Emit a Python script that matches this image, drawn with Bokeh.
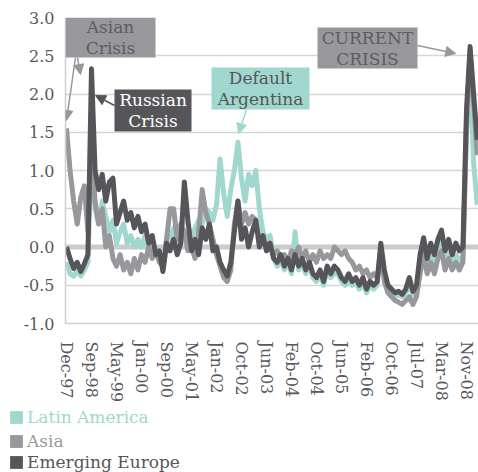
from bokeh.plotting import figure
from bokeh.models import (Range1d, FixedTicker, Span, BoxAnnotation, Label, Arrow,
                          NormalHead, Legend, LegendItem, PrintfTickFormatter)
from bokeh.embed import file_html
from bokeh.resources import INLINE

# ---------------- data (weekly index, one value every 5 weeks) ----------------
tick_labels = ["Dec-97", "Sep-98", "May-99", "Jan-00", "Sep-00", "May-01", "Jan-02",
               "Oct-02", "Jun-03", "Feb-04", "Oct-04", "Jun-05", "Feb-06", "Oct-06",
               "Jul-07", "Mar-08", "Nov-08"]
tick_weeks = [0, 35, 70, 105, 140, 175, 210, 245, 280, 315, 350, 385, 420, 455, 490, 525, 560]

latin_america = [
    -0.20, -0.35, -0.38, -0.30, -0.38, -0.30, -0.20, 1.30, 0.50, 0.30,
    0.60, 0.40, 0.20, 0.35, 0.05, 0.20, 0.30, 0.05, 0.15, 0.00,
    0.10, 0.00, 0.15, -0.05, 0.05, -0.10, -0.05, -0.30, 0.00, 0.10,
    0.25, -0.05, 0.05, 0.60, 0.30, 0.10, 0.25, 0.35, 0.30, 0.50,
    0.45, 0.35, 0.55, 1.15, 0.70, 0.40, 0.75, 1.00, 1.37, 0.90,
    0.60, 0.95, 0.80, 1.00, 0.50, 0.20, 0.10, 0.15, -0.15, -0.25,
    -0.15, -0.30, -0.20, -0.35, 0.20, -0.30, -0.20, -0.35, -0.25, -0.40,
    -0.45, -0.35, -0.50, -0.30, -0.40, -0.35, -0.35, -0.45, -0.50, -0.45,
    -0.50, -0.45, -0.55, -0.45, -0.60, -0.50, -0.55, -0.50, -0.05, -0.40,
    -0.55, -0.60, -0.65, -0.62, -0.65, -0.60, -0.50, -0.62, -0.55, -0.20,
    0.00, -0.25, -0.10, -0.25, -0.05, 0.10, -0.15, 0.00, -0.20, -0.10,
    -0.20, -0.10, 1.50, 2.30, 1.10, 0.55]

asia = [
    1.55, 1.00, 0.60, 0.30, 0.65, 0.80, 0.20, 1.20, 0.60, 0.30,
    0.50, 0.00, 0.15, -0.15, -0.25, -0.10, -0.30, -0.20, -0.35, -0.15,
    -0.30, -0.10, -0.20, 0.00, -0.15, -0.05, -0.20, -0.25, 0.10, 0.50,
    0.50, 0.10, 0.30, 0.20, -0.05, 0.00, -0.15, 0.20, 0.75, 0.45,
    0.30, 0.10, -0.10, -0.25, -0.40, -0.45, -0.30, 0.30, 0.60, 0.30,
    0.45, 0.30, 0.40, 0.35, 0.10, 0.05, 0.05, 0.00, -0.10, -0.05,
    -0.15, -0.10, -0.20, -0.05, -0.10, 0.00, -0.15, -0.05, -0.20, -0.10,
    -0.20, -0.05, -0.15, -0.10, -0.15, 0.00, -0.05, -0.10, -0.05, -0.15,
    -0.20, -0.30, -0.25, -0.35, -0.30, -0.40, -0.35, -0.40, -0.05, -0.45,
    -0.60, -0.65, -0.70, -0.72, -0.75, -0.70, -0.65, -0.75, -0.65, -0.35,
    -0.10, -0.35, -0.20, -0.35, -0.15, -0.05, -0.30, -0.15, -0.30, -0.20,
    -0.30, -0.20, 1.60, 2.55, 1.90, 1.20]

emerging_europe = [
    0.00, -0.15, -0.28, -0.20, -0.32, -0.22, -0.10, 2.33, 1.00, 0.75,
    0.95, 0.60, 0.85, 0.90, 0.30, 0.45, 0.60, 0.35, 0.45, 0.25,
    0.40, 0.20, 0.30, 0.05, 0.15, -0.10, -0.05, -0.32, 0.05, -0.05,
    0.10, -0.10, 0.05, 0.85, 0.35, -0.05, 0.10, -0.10, 0.25, 0.10,
    0.30, -0.05, 0.00, -0.20, -0.30, -0.38, -0.20, 0.20, 0.60, 0.10,
    0.25, 0.00, 0.20, 0.35, 0.00, 0.15, -0.05, 0.05, -0.15, -0.20,
    -0.10, -0.25, -0.15, -0.30, -0.10, -0.25, -0.15, -0.30, -0.20, -0.35,
    -0.40, -0.30, -0.45, -0.25, -0.35, -0.25, -0.30, -0.40, -0.45, -0.35,
    -0.45, -0.40, -0.50, -0.40, -0.55, -0.45, -0.50, -0.45, 0.05, -0.30,
    -0.50, -0.55, -0.60, -0.58, -0.62, -0.55, -0.40, -0.58, -0.50, -0.10,
    0.12, -0.15, 0.05, -0.10, 0.10, 0.22, -0.05, 0.10, -0.10, 0.05,
    -0.05, 0.00, 1.80, 2.62, 2.00, 1.40]

weeks = list(range(0, 5 * len(emerging_europe), 5))

series_names = ["Latin America", "Asia", "Emerging Europe"]

# ---------------- style ----------------
TEAL = "#a0d8cf"
GRAY = "#98989c"
DARK = "#56565a"
TXT = "#58585c"
FONT = "DejaVu Serif"

p = figure(width=478, height=405,
           x_range=Range1d(-1.4, 576.8), y_range=Range1d(-1.0, 3.0),
           output_backend="svg", toolbar_location=None,
           min_border_left=65, min_border_right=0, min_border_top=17, min_border_bottom=82)
p.outline_line_color = None
p.background_fill_color = "white"
p.border_fill_color = "white"

# axes
p.yaxis.ticker = FixedTicker(ticks=[-1.0, -0.5, 0.0, 0.5, 1.0, 1.5, 2.0, 2.5, 3.0])
p.yaxis.formatter = PrintfTickFormatter(format="%.1f")
p.yaxis.axis_line_color = "#cfcfcf"
p.yaxis.axis_line_width = 1.5
p.yaxis.major_tick_line_color = None
p.yaxis.minor_tick_line_color = None
p.yaxis.major_label_text_font = FONT
p.yaxis.major_label_text_font_size = "16px"
p.yaxis.major_label_text_color = TXT
p.yaxis.major_label_standoff = 5

p.xaxis.ticker = FixedTicker(ticks=tick_weeks)
p.xaxis.major_label_overrides = {w: lab for w, lab in zip(tick_weeks, tick_labels)}
p.xaxis.major_label_orientation = "vertical"
p.xaxis.axis_line_color = "#cfcfcf"
p.xaxis.axis_line_width = 1.5
p.xaxis.major_tick_line_color = None
p.xaxis.minor_tick_line_color = None
p.xaxis.major_label_text_font = FONT
p.xaxis.major_label_text_font_size = "16px"
p.xaxis.major_label_text_color = TXT
p.xaxis.major_label_standoff = 12

p.xgrid.visible = False
p.ygrid.grid_line_color = "#d6d6d6"
p.ygrid.grid_line_width = 1.5

p.add_layout(Span(location=0, dimension="width", line_color="#cbcbcb",
                  line_width=5, level="underlay"))

# lines
colors = [TEAL, GRAY, DARK]
for vals, col in zip([latin_america, asia, emerging_europe], colors):
    p.line(weeks, vals, line_color=col, line_width=5, line_join="round")

# annotations
def box(l, r, t, b, col):
    p.add_layout(BoxAnnotation(left=l, right=r, top=t, bottom=b, fill_color=col,
                               fill_alpha=1.0, line_color=None, level="overlay"))

def lab(x, y, text, col):
    p.add_layout(Label(x=x, y=y, text=text, text_align="center", text_baseline="middle",
                       text_font=FONT, text_font_size="17px", text_color=col,
                       text_line_height=1.05, level="overlay"))

def arrow(x0, y0, x1, y1, col):
    p.add_layout(Arrow(end=NormalHead(size=10, fill_color=col, line_color=col),
                       x_start=x0, y_start=y0, x_end=x1, y_end=y1,
                       line_color=col, line_width=1.5, level="overlay"))

box(-1.4, 124.6, 3.0, 2.477, GRAY)
lab(61.6, 2.739, "Asian\nCrisis", "#5d5d61")
arrow(12.6, 2.477, 0.0, 1.654, GRAY)
arrow(15.4, 2.477, 19.6, 2.255, GRAY)

box(67.2, 175.0, 2.059, 1.510, DARK)
lab(121.1, 1.784, "Russian\nCrisis", "white")
arrow(67.2, 1.85, 40.6, 1.98, DARK)

box(203.0, 340.2, 2.346, 1.797, TEAL)
lab(271.6, 2.072, "Default\nArgentina", "#55565a")
arrow(252.0, 1.797, 240.9, 1.484, TEAL)

box(351.4, 491.4, 2.869, 2.333, GRAY)
lab(421.4, 2.601, "CURRENT\nCRISIS", "#5d5d61")
arrow(491.4, 2.634, 544.8, 2.53, GRAY)

# ---------------- legend strip below the chart ----------------
leg = figure(width=478, height=67, x_range=Range1d(0, 1), y_range=Range1d(0, 1),
             x_axis_type=None, y_axis_type=None,
             output_backend="svg", toolbar_location=None,
             min_border_left=0, min_border_right=0, min_border_top=0, min_border_bottom=0)
leg.outline_line_color = None
leg.xgrid.visible = False
leg.ygrid.visible = False
leg.background_fill_color = "white"
leg.border_fill_color = "white"

nan = float("nan")
row_y = [45, 21, 0]
for name, col, ry in zip(series_names, colors, row_y):
    proxy = leg.quad(left=[nan], right=[nan], top=[nan], bottom=[nan],
                     fill_color=col, line_color=None)
    lg = Legend(items=[LegendItem(label=name, renderers=[proxy])],
                location=(8, ry),
                border_line_color=None, background_fill_alpha=0.0,
                padding=0, margin=0, spacing=0,
                glyph_width=16, glyph_height=16, label_height=20,
                label_standoff=3, label_text_font=FONT,
                label_text_font_size="17px", label_text_color=col)
    leg.add_layout(lg)

# two separate roots so the legend strip is not frame-aligned with the chart
open("out.html", "w").write(file_html([p, leg], INLINE))
